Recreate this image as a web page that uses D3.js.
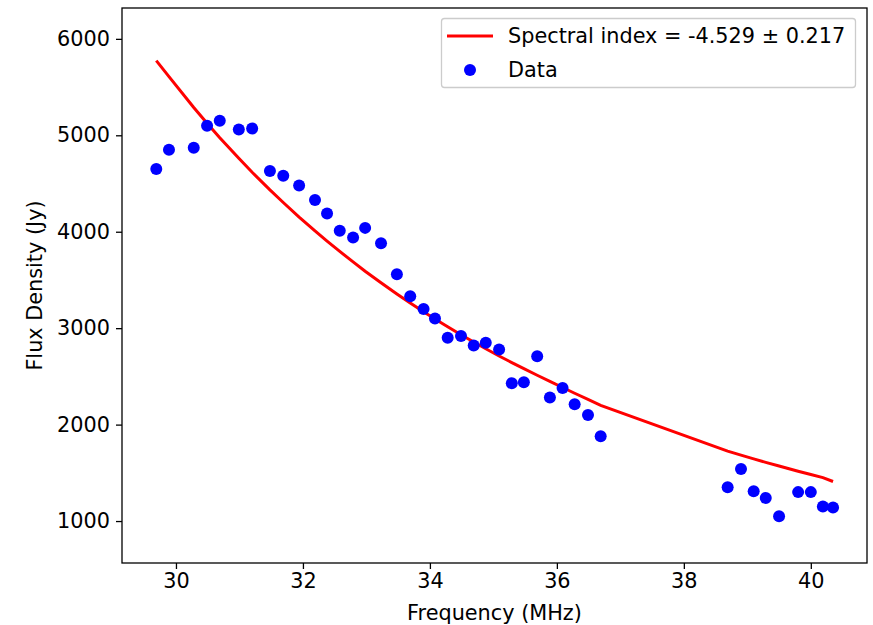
<!DOCTYPE html>
<html>
<head>
<meta charset="utf-8">
<script src="https://cdn.jsdelivr.net/npm/d3@7/dist/d3.min.js"></script>
<style>
  body { margin: 0; background: #fff; }
  svg { display: block; font-family: "DejaVu Sans", sans-serif; }
</style>
</head>
<body>
<div class="chart"></div>
<script>
// observed frequencies (MHz)
const frequencies = [29.69, 29.89, 30.28, 30.49, 30.69, 30.99, 31.2, 31.48, 31.69, 31.94,
    32.19, 32.38, 32.58, 32.79, 32.98, 33.23, 33.48, 33.69, 33.9, 34.08,
    34.28, 34.49, 34.69, 34.88, 35.09, 35.29, 35.48, 35.69, 35.89, 36.09,
    36.28, 36.49, 36.69, 38.69, 38.9, 39.1, 39.29, 39.5, 39.8, 40.0,
    40.19, 40.35];

// measured flux density (Jy)
const fluxDensity = [4650, 4850, 4870, 5100, 5150, 5060, 5070, 4630, 4580, 4480,
    4330, 4190, 4010, 3940, 4040, 3880, 3560, 3330, 3200, 3100,
    2900, 2920, 2820, 2850, 2780, 2430, 2440, 2710, 2280, 2380,
    2210, 2100, 1880, 1350, 1540, 1310, 1240, 1050, 1300, 1300,
    1150, 1140];

// fitted power law read at each frequency (Jy)
const fitFlux = [5775, 5608, 5288, 5125, 4975, 4761, 4617, 4434, 4303, 4152,
    4008, 3903, 3796, 3687, 3591, 3471, 3355, 3261, 3171, 3095,
    3015, 2932, 2856, 2787, 2712, 2643, 2580, 2512, 2449, 2385,
    2325, 2262, 2200, 1725, 1683, 1645, 1609, 1571, 1517, 1482,
    1450, 1410];

const xTicks = [30, 32, 34, 36, 38, 40];
const yTicks = [1000, 2000, 3000, 4000, 5000, 6000];
const fitLabel = "Spectral index = -4.529 \u00b1 0.217";
const dataLabel = "Data";

const width = 873,
    height = 625;
const margin = { top: 8, right: 6, bottom: 62, left: 122 };
const fontSize = "20.8px";

const svg = d3.select(".chart").append("svg")
    .attr("width", width)
    .attr("height", height);

const x = d3.scaleLinear()
    .domain([29.15, 40.885])
    .range([margin.left, width - margin.right]);

const y = d3.scaleLinear()
    .domain([565, 6320])
    .range([height - margin.bottom, margin.top]);

// fit line
const line = d3.line()
    .x(function (d, i) { return x(frequencies[i]); })
    .y(function (d) { return y(d); });

svg.append("path")
    .datum(fitFlux)
    .attr("d", line)
    .attr("fill", "none")
    .attr("stroke", "#ff0000")
    .attr("stroke-width", 3);

// data points
svg.selectAll(".dot")
    .data(fluxDensity)
    .enter().append("circle")
    .attr("class", "dot")
    .attr("cx", function (d, i) { return x(frequencies[i]); })
    .attr("cy", function (d) { return y(d); })
    .attr("r", 6)
    .attr("fill", "#0000ff");

// axes
const xAxis = svg.append("g")
    .attr("transform", "translate(0," + (height - margin.bottom) + ")")
    .call(d3.axisBottom(x).tickValues(xTicks).tickSize(6).tickPadding(4).tickFormat(d3.format("d")));

const yAxis = svg.append("g")
    .attr("transform", "translate(" + margin.left + ",0)")
    .call(d3.axisLeft(y).tickValues(yTicks).tickSize(6).tickPadding(6).tickFormat(d3.format("d")));

[xAxis, yAxis].forEach(function (g) {
    g.select(".domain").remove();
    g.selectAll("line").attr("stroke", "#000").attr("stroke-width", 1.3);
    g.selectAll("text").attr("fill", "#000").style("font-size", fontSize).style("font-family", "DejaVu Sans");
});

// frame
svg.append("rect")
    .attr("x", margin.left)
    .attr("y", margin.top)
    .attr("width", width - margin.left - margin.right)
    .attr("height", height - margin.top - margin.bottom)
    .attr("fill", "none")
    .attr("stroke", "#000")
    .attr("stroke-width", 1.3);

// axis labels
svg.append("text")
    .attr("x", (margin.left + width - margin.right) / 2)
    .attr("y", 620)
    .attr("text-anchor", "middle")
    .style("font-size", fontSize)
    .text("Frequency (MHz)");

svg.append("text")
    .attr("transform", "translate(42," + ((margin.top + height - margin.bottom) / 2) + ") rotate(-90)")
    .attr("text-anchor", "middle")
    .style("font-size", fontSize)
    .text("Flux Density (Jy)");

// legend
const legend = svg.append("g");
legend.append("rect")
    .attr("x", 441.5)
    .attr("y", 18.5)
    .attr("width", 414)
    .attr("height", 69)
    .attr("rx", 3)
    .attr("fill", "#fff")
    .attr("fill-opacity", 0.8)
    .attr("stroke", "#cccccc")
    .attr("stroke-width", 1.3);

legend.append("line")
    .attr("x1", 447).attr("x2", 493)
    .attr("y1", 36).attr("y2", 36)
    .attr("stroke", "#ff0000")
    .attr("stroke-width", 3);

legend.append("circle")
    .attr("cx", 470).attr("cy", 70)
    .attr("r", 6)
    .attr("fill", "#0000ff");

legend.append("text")
    .attr("x", 508).attr("y", 43)
    .style("font-size", fontSize)
    .text(fitLabel);

legend.append("text")
    .attr("x", 508).attr("y", 77)
    .style("font-size", fontSize)
    .text(dataLabel);
</script>
</body>
</html>
